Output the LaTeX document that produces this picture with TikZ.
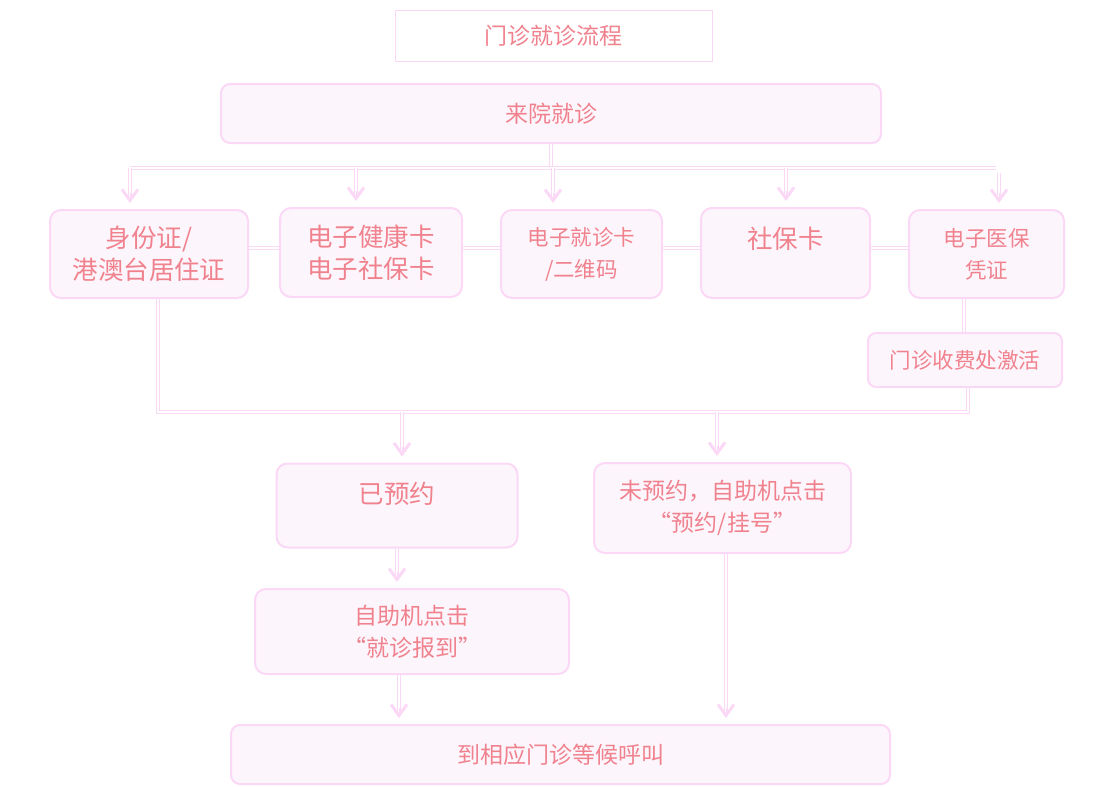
\documentclass[tikz,border=0pt]{standalone}
\usepackage{fontspec}
\setmainfont{Noto Sans CJK SC}
\usetikzlibrary{arrows.meta,calc}
\definecolor{txt}{HTML}{F0828E}
\definecolor{bord}{HTML}{FAD8F6}
\definecolor{boxfill}{HTML}{FDF5FC}
\definecolor{lnk}{HTML}{FAD8F6}
\tikzset{
  box/.style={draw=bord, line width=2pt, fill=boxfill, rounded corners=11pt,
    text=txt, align=center, inner sep=0pt},
  titlebox/.style={draw=bord, line width=1pt, fill=white, text=txt, align=center, inner sep=0pt},
  fa/.style={font=\fontsize{23}{32}\selectfont},
  fb/.style={font=\fontsize{25.5}{32}\selectfont},
  fc/.style={font=\fontsize{21.5}{32}\selectfont},
  conn/.style={draw=lnk, line width=0.9pt, double=white, double distance=1.6pt},
  arr/.style={shorten >=8pt},
  arrtip/.style={draw=lnk, line width=0.5pt, -{Straight Barb[length=11pt,width=16pt,line width=3pt]}, shorten >=6pt},
}
\newcommand\tipat[1]{\draw[arrtip] ($(#1)+(0,-16)$) -- (#1);}
\begin{document}
\begin{tikzpicture}[x=1pt,y=-1pt]
\useasboundingbox (0,0) rectangle (1112,787);
% nodes
\node[titlebox, fa, minimum width=317pt, minimum height=51pt] (title) at (553.5,35.5) {门诊就诊流程};
\node[box, fa, minimum width=660pt, minimum height=59pt, rounded corners=9pt] (come) at (551,113.5) {来院就诊};
\node[box, fb, minimum width=198pt, minimum height=88pt] (id) at (149,254) {\raisebox{-3pt}{身份证/}\\\raisebox{-3pt}{港澳台居住证}};
\node[box, fb, minimum width=182pt, minimum height=89pt] (ehc) at (371,252.5) {\raisebox{-2pt}{电子健康卡}\\\raisebox{-2pt}{电子社保卡}};
\node[box, fc, minimum width=161pt, minimum height=88pt] (ecard) at (581.5,254) {\raisebox{-3pt}{电子就诊卡}\\\raisebox{-3pt}{/二维码}};
\node[box, fb, minimum width=169pt, minimum height=90pt] (sic) at (785.5,253) {社保卡\\[-12pt]\strut};
\node[box, fc, minimum width=155pt, minimum height=88pt] (emi) at (986.5,254) {\raisebox{-2pt}{电子医保}\\\raisebox{-2pt}{凭证}};
\node[box, fc, minimum width=194pt, minimum height=54pt, rounded corners=8pt] (act) at (965,360) {门诊收费处激活};
\node[box, fb, minimum width=241pt, minimum height=84pt] (yes) at (397,505.5) {已预约\\[-16pt]\strut};
\node[box, fa, minimum width=257pt, minimum height=90pt] (no) at (722.5,508) {\raisebox{-2pt}{未预约，自助机点击}\\\raisebox{-2pt}{“预约/挂号”}};
\node[box, fa, minimum width=314pt, minimum height=85pt] (check) at (412,631.5) {\raisebox{-3pt}{自助机点击}\\\raisebox{-3pt}{“就诊报到”}};
\node[box, fa, minimum width=659pt, minimum height=59pt, rounded corners=9pt] (wait) at (560.5,754.5) {到相应门诊等候呼叫};
% coordinates
\coordinate (tbL) at (130,168);
\coordinate (tbR) at (996,168);
\coordinate (a2) at (356,168);
\coordinate (a3) at (553,168);
\coordinate (a4) at (786,168);
\coordinate (a5) at (999,173);
\coordinate (hl) at (0,248);
\coordinate (bbL) at (158,412);
\coordinate (bbR) at (968,412);
\coordinate (a6) at (402,412);
\coordinate (a7) at (717,412);
\coordinate (c1) at (399,0);
\coordinate (c2) at (726,0);
\coordinate (c3) at (964,0);
% top bus
\draw[conn] (come.south) -- (come.south |- tbL);
\draw[conn] (tbL) -- (tbR);
\draw[conn,arr] (tbL) -- (tbL |- id.north);
\draw[conn,arr] (a2) -- (a2 |- ehc.north);
\draw[conn,arr] (a3) -- (a3 |- ecard.north);
\draw[conn,arr] (a4) -- (a4 |- sic.north);
\draw[conn,arr] (a5) -- (a5 |- emi.north);
\tipat{tbL |- id.north}
\tipat{a2 |- ehc.north}
\tipat{a3 |- ecard.north}
\tipat{a4 |- sic.north}
\tipat{a5 |- emi.north}
% horizontal links
\draw[conn] (id.east |- hl) -- (ehc.west |- hl);
\draw[conn] (ehc.east |- hl) -- (ecard.west |- hl);
\draw[conn] (ecard.east |- hl) -- (sic.west |- hl);
\draw[conn] (sic.east |- hl) -- (emi.west |- hl);
% emi to activation
\draw[conn] (c3 |- emi.south) -- (c3 |- act.north);
% bottom bus
\draw[conn] (bbL |- id.south) -- (bbL) -- (bbR) -- (bbR |- act.south);
\draw[conn,arr] (a6) -- (a6 |- yes.north);
\draw[conn,arr] (a7) -- (a7 |- no.north);
\draw[conn,arr] (yes.south) -- (yes.south |- check.north);
\draw[conn,arr] (c1 |- check.south) -- (c1 |- wait.north);
\draw[conn,arr] (c2 |- no.south) -- (c2 |- wait.north);
\tipat{a6 |- yes.north}
\tipat{a7 |- no.north}
\tipat{yes.south |- check.north}
\tipat{c1 |- wait.north}
\tipat{c2 |- wait.north}
\end{tikzpicture}
\end{document}
